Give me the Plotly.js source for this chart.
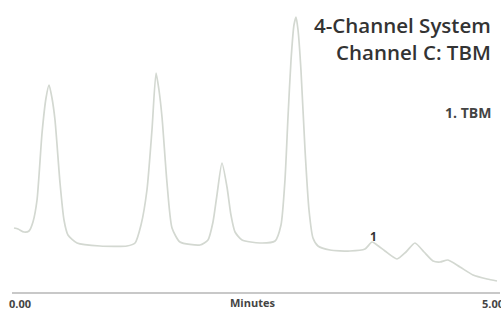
<!DOCTYPE html>
<html>
<head>
<meta charset="utf-8">
<script src="https://cdn.plot.ly/plotly-3.0.1.min.js"></script>
<style>html,body{margin:0;padding:0;background:#fff;}#chart{width:501px;height:314px;}</style>
</head>
<body>
<div id="chart"></div>
<script>
// Retention time (minutes)
var timeMin = [-0.063,-0.021,0.042,0.095,0.137,0.180,0.233,0.275,0.307,0.338,0.370,0.423,0.465,0.507,0.603,0.846,1.131,1.216,1.279,1.342,1.395,1.438,1.469,1.501,1.554,1.607,1.691,1.903,1.987,2.040,2.082,2.135,2.188,2.230,2.273,2.347,2.537,2.696,2.759,2.801,2.833,2.865,2.896,2.918,2.939,2.970,3.013,3.055,3.097,3.150,3.277,3.488,3.647,3.721,3.774,3.858,3.985,4.080,4.175,4.271,4.366,4.440,4.524,4.651,4.789,4.937,5.042];
// Detector response (arbitrary units)
var signal = [64,63,60,61,70,92,159,194,207,194,172,109,72,57,49,46,46,49,67,102,162,219,202,175,109,64,50,47,52,70,97,129,105,77,60,52,49,51,67,112,175,232,267,275,262,222,142,82,54,46,42,41,43,50,47,41,33,40,49,40,31,30,32,25,17,13,11];
var tickVals = [0, 5];
var tickText = ["0.00", "5.00"];
var titleLines = ["4-Channel System", "Channel C: TBM"];
var peakLabels = ["1"];
var peakTimes = [3.74];
var peakHeights = [56];
var legendText = "1. TBM";
var xAxisLabel = "Minutes";

var trace = {
  x: timeMin, y: signal, type: "scatter", mode: "lines",
  line: {color: "#d3d8d1", width: 1.7, shape: "spline", smoothing: 0.6},
  hoverinfo: "skip"
};

// paper coordinates from figure pixels (plot area x 12..500, y 0..292)
function px(p) { return (p - 12) / 488; }
function py(p) { return (292 - p) / 292; }

var anns = [
  {text: titleLines.join("<br>"), xref: "paper", yref: "paper", x: px(493), y: py(39), xanchor: "right", yanchor: "middle",
   align: "right", showarrow: false, font: {family: "Open Sans", size: 20.5, color: "#333", weight: 600}},
  {text: legendText, xref: "paper", yref: "paper", x: px(493), y: py(112), xanchor: "right", yanchor: "middle", showarrow: false,
   font: {family: "Open Sans", size: 14, color: "#444", weight: "bold"}},
  {text: xAxisLabel, xref: "paper", yref: "paper", x: px(252), y: py(302), xanchor: "center", yanchor: "middle", showarrow: false,
   font: {family: "Open Sans", size: 11, color: "#444", weight: "bold"}}
];
for (var i = 0; i < peakLabels.length; i++) {
  anns.push({text: peakLabels[i], x: peakTimes[i], y: peakHeights[i], xref: "x", yref: "y", showarrow: false,
    yanchor: "middle", font: {family: "Open Sans", size: 12, color: "#333", weight: "bold"}});
}

var layout = {
  width: 501, height: 314,
  margin: {l: 12, r: 1, t: 0, b: 22},
  paper_bgcolor: "#fff", plot_bgcolor: "#fff",
  showlegend: false,
  xaxis: {range: [-0.0846, 5.074], showgrid: false, zeroline: false, showline: true, linecolor: "#c8c8c8", linewidth: 1.5,
    tickvals: tickVals, ticktext: tickText, ticks: "", ticklabelstandoff: 1, ticklabeloverflow: "allow",
    tickfont: {family: "Open Sans", size: 11, color: "#444", weight: "bold"}},
  yaxis: {range: [0, 292], visible: false, fixedrange: true},
  annotations: anns
};

Plotly.newPlot("chart", [trace], layout, {staticPlot: true, displayModeBar: false});
</script>
</body>
</html>
